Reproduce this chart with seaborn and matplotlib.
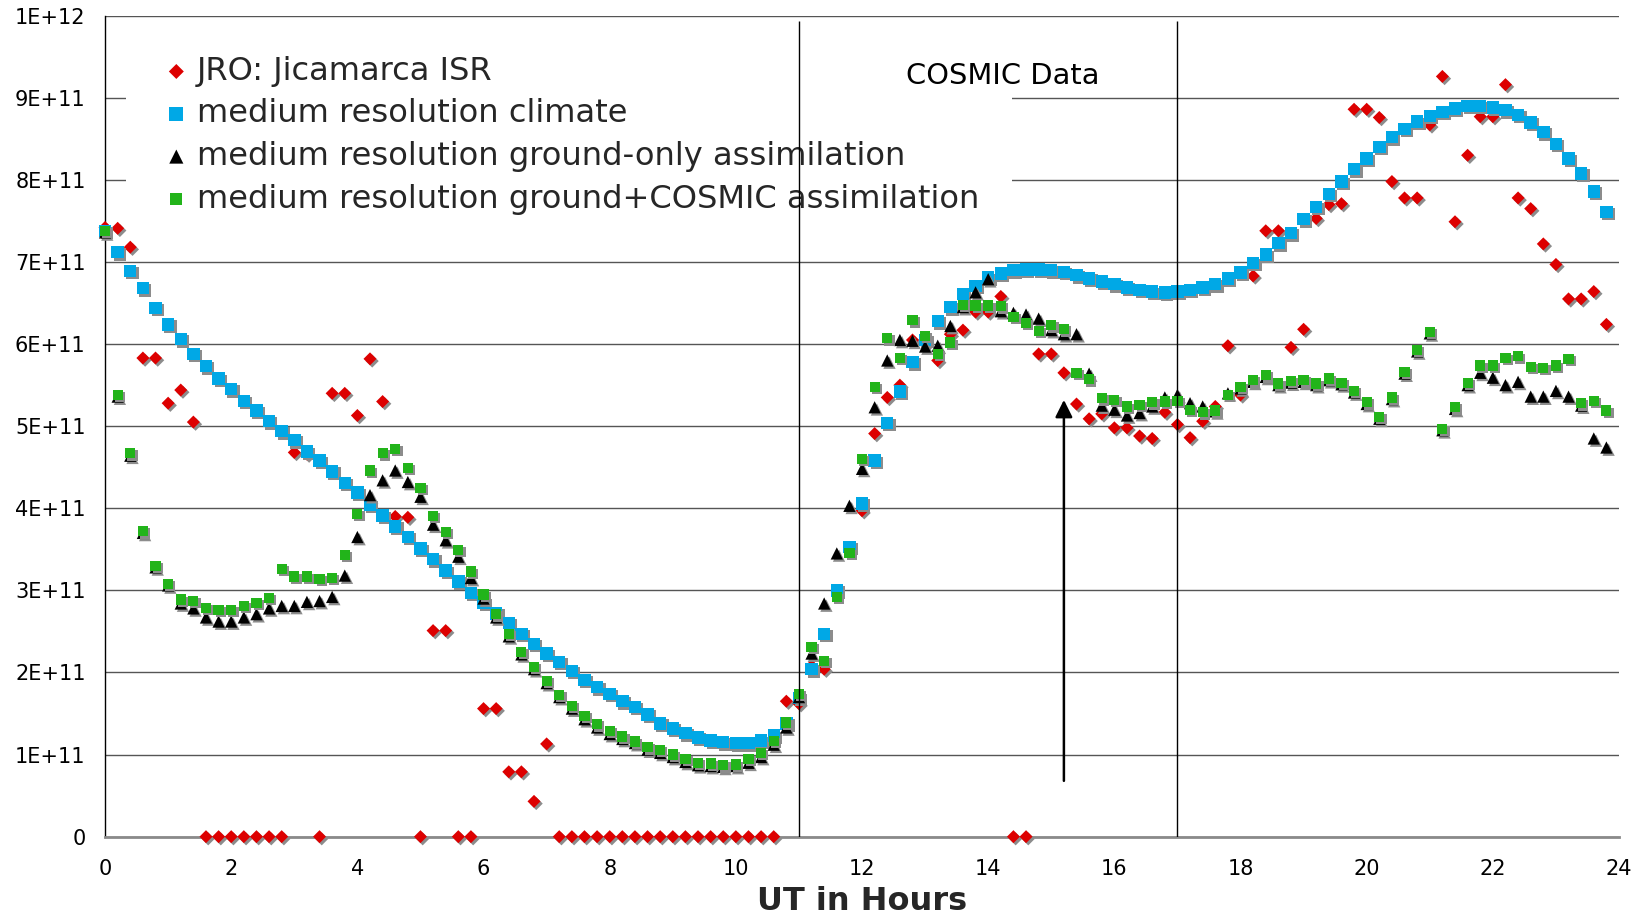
import numpy as np
import pandas as pd
import matplotlib
matplotlib.use("Agg")
import matplotlib.pyplot as plt
import seaborn as sns
from matplotlib.transforms import ScaledTranslation
from matplotlib.patches import Rectangle

# Model output every 12 minutes of UT
hours = np.round(np.arange(120) * 0.2, 1)

# Peak electron density (units of 1E+11), one row per 2 hours
jro = [
    7.42, 7.41, 7.18, 5.83, 5.83, 5.28, 5.44, 5.05, 0, 0,
    0, 0, 0, 0, 0, 4.68, 4.66, 0, 5.40, 5.40,
    5.13, 5.82, 5.30, 3.90, 3.89, 0, 2.51, 2.51, 0, 0,
    1.56, 1.56, 0.79, 0.79, 0.43, 1.13, 0, 0, 0, 0,
    0, 0, 0, 0, 0, 0, 0, 0, 0, 0,
    0, 0, 0, 0, 1.65, 1.62, 2.08, 2.04, np.nan, np.nan,
    3.97, 4.91, 5.35, 5.50, 6.05, 6.00, 5.80, 6.12, 6.17, 6.39,
    6.39, 6.58, 0, 0, 5.88, 5.88, 5.65, 5.27, 5.09, 5.15,
    4.98, 4.98, 4.88, 4.85, 5.17, 5.02, 4.86, 5.06, 5.24, 5.98,
    5.38, 6.83, 7.38, 7.38, 5.96, 6.18, 7.53, 7.70, 7.71, 8.86,
    8.86, 8.76, 7.98, 7.78, 7.78, 8.67, 9.26, 7.49, 8.30, 8.77,
    8.77, 9.16, 7.78, 7.65, 7.22, 6.97, 6.55, 6.55, 6.64, 6.24,
]
climate = [
    7.38, 7.12, 6.89, 6.68, 6.44, 6.24, 6.06, 5.88, 5.73, 5.58,
    5.45, 5.31, 5.19, 5.06, 4.94, 4.83, 4.69, 4.58, 4.45, 4.31,
    4.19, 4.04, 3.91, 3.78, 3.65, 3.51, 3.38, 3.24, 3.11, 2.97,
    2.85, 2.72, 2.60, 2.47, 2.35, 2.23, 2.13, 2.02, 1.91, 1.82,
    1.74, 1.65, 1.58, 1.49, 1.38, 1.32, 1.26, 1.21, 1.17, 1.15,
    1.14, 1.14, 1.17, 1.23, 1.38, 1.69, 2.04, 2.47, 3.00, 3.53,
    4.06, 4.58, 5.04, 5.42, 5.78, 6.05, 6.28, 6.45, 6.61, 6.71,
    6.81, 6.86, 6.90, 6.91, 6.91, 6.90, 6.88, 6.84, 6.80, 6.76,
    6.73, 6.69, 6.66, 6.64, 6.63, 6.64, 6.66, 6.69, 6.73, 6.80,
    6.87, 6.99, 7.09, 7.23, 7.35, 7.52, 7.67, 7.83, 7.98, 8.13,
    8.26, 8.40, 8.52, 8.62, 8.71, 8.78, 8.83, 8.87, 8.90, 8.90,
    8.88, 8.85, 8.79, 8.70, 8.58, 8.44, 8.26, 8.08, 7.86, 7.61,
]
ground_only = [
    7.36, 5.36, 4.64, 3.70, 3.28, 3.06, 2.84, 2.78, 2.67, 2.62,
    2.62, 2.67, 2.71, 2.78, 2.81, 2.81, 2.86, 2.87, 2.92, 3.18,
    3.65, 4.16, 4.34, 4.46, 4.32, 4.14, 3.80, 3.61, 3.41, 3.15,
    2.90, 2.67, 2.44, 2.22, 2.04, 1.87, 1.70, 1.56, 1.43, 1.33,
    1.25, 1.19, 1.14, 1.06, 1.02, 0.97, 0.91, 0.87, 0.86, 0.85,
    0.86, 0.90, 0.97, 1.12, 1.33, 1.70, 2.23, 2.84, 3.45, 4.03,
    4.48, 5.23, 5.80, 6.05, 6.04, 5.97, 5.98, 6.22, 6.45, 6.63,
    6.79, 6.40, 6.38, 6.36, 6.31, 6.17, 6.12, 6.12, 5.64, 5.25,
    5.20, 5.13, 5.16, 5.24, 5.35, 5.38, 5.28, 5.24, 5.18, 5.40,
    5.46, 5.54, 5.60, 5.50, 5.53, 5.54, 5.50, 5.56, 5.51, 5.41,
    5.27, 5.09, 5.33, 5.64, 5.91, 6.13, 4.95, 5.21, 5.50, 5.65,
    5.59, 5.50, 5.54, 5.36, 5.36, 5.43, 5.36, 5.25, 4.85, 4.74,
]
ground_cosmic = [
    7.38, 5.38, 4.67, 3.72, 3.30, 3.08, 2.89, 2.87, 2.79, 2.76,
    2.76, 2.81, 2.85, 2.91, 3.26, 3.17, 3.17, 3.14, 3.15, 3.43,
    3.93, 4.46, 4.67, 4.72, 4.49, 4.25, 3.91, 3.71, 3.49, 3.23,
    2.95, 2.71, 2.47, 2.25, 2.07, 1.90, 1.73, 1.59, 1.47, 1.37,
    1.29, 1.22, 1.16, 1.09, 1.06, 1.00, 0.95, 0.90, 0.89, 0.87,
    0.88, 0.95, 1.02, 1.17, 1.39, 1.74, 2.31, 2.14, 2.92, 3.46,
    4.60, 5.48, 6.07, 5.83, 6.29, 6.10, 5.88, 6.02, 6.48, 6.47,
    6.47, 6.46, 6.33, 6.26, 6.16, 6.23, 6.18, 5.65, 5.57, 5.34,
    5.32, 5.24, 5.26, 5.29, 5.30, 5.31, 5.20, 5.17, 5.19, 5.38,
    5.48, 5.56, 5.62, 5.52, 5.55, 5.56, 5.52, 5.58, 5.53, 5.43,
    5.29, 5.11, 5.35, 5.66, 5.93, 6.15, 4.97, 5.23, 5.53, 5.74,
    5.74, 5.83, 5.85, 5.72, 5.71, 5.74, 5.82, 5.28, 5.31, 5.19,
]

series_labels = [
    "JRO: Jicamarca ISR",
    "medium resolution climate",
    "medium resolution ground-only assimilation",
    "medium resolution ground+COSMIC assimilation",
]
ytick_labels = ["0", "1E+11", "2E+11", "3E+11", "4E+11", "5E+11",
                "6E+11", "7E+11", "8E+11", "9E+11", "1E+12"]
xticks = list(range(0, 25, 2))
cosmic_window = [11, 17]
arrow_hour = 15.2
arrow_range = [0.68, 5.32]
scale = 1e11

df = pd.DataFrame({
    "hour": hours,
    series_labels[0]: np.array(jro) * scale,
    series_labels[1]: np.array(climate) * scale,
    series_labels[2]: np.array(ground_only) * scale,
    series_labels[3]: np.array(ground_cosmic) * scale,
})

sns.set_theme(style="white")
plt.rcParams["font.family"] = ["DejaVu Sans"]

fig = plt.figure(figsize=(16.44, 9.17), dpi=100)
ax = fig.add_axes([0.0639, 0.0876, 0.9209, 0.8953])

styles = [
    dict(marker="D", s=44, color="#DD0000"),
    dict(marker="s", s=80, color="#00A8E6"),
    dict(marker="^", s=78, color="#000000"),
    dict(marker="s", s=54, color="#22B41A"),
]

shift = ScaledTranslation(1.6 / 72, -1.6 / 72, fig.dpi_scale_trans)
z = 3
for label, st in zip(series_labels, styles):
    # drop shadow
    sns.scatterplot(data=df, x="hour", y=label, marker=st["marker"], s=st["s"],
                    color="#8c8c8c", edgecolor="none", linewidth=0, ax=ax,
                    legend=False, zorder=z, clip_on=False)
    ax.collections[-1].set_offset_transform(ax.transData + shift)
    sns.scatterplot(data=df, x="hour", y=label, marker=st["marker"], s=st["s"],
                    color=st["color"], edgecolor="none", linewidth=0, ax=ax,
                    label=label, zorder=z + 0.5, clip_on=False)
    z += 1

ax.set_xlim(0, 24)
ax.set_ylim(0, 1e12)
ax.set_xticks(xticks)
ax.set_xticklabels([str(v) for v in xticks])
ax.set_yticks([i * scale for i in range(11)])
ax.set_yticklabels(ytick_labels)
ax.tick_params(axis="both", labelsize=15, colors="black", direction="out")
ax.tick_params(axis="y", length=6, width=1, pad=8)
ax.tick_params(axis="x", length=6, width=1, pad=10, color="#808080")

ax.yaxis.grid(True, color="#555555", linewidth=1)
ax.xaxis.grid(False)
ax.set_axisbelow(True)
for side in ["top", "right"]:
    ax.spines[side].set_visible(False)
ax.spines["left"].set_color("black")
ax.spines["left"].set_linewidth(1)
ax.spines["bottom"].set_color("#8a8a8a")
ax.spines["bottom"].set_linewidth(2)

ax.set_xlabel("UT in Hours", fontsize=23, fontweight="bold", labelpad=5)
ax.set_ylabel("")

# white panel behind the legend
ax.add_patch(Rectangle((0.0139, 0.757), 0.585, 0.215, transform=ax.transAxes,
                       facecolor="white", edgecolor="none", zorder=1))

ax.vlines(cosmic_window, 0, 9.94 * scale, color="black", linewidth=1, zorder=8)
ax.text(14.23, 9.27 * scale, "COSMIC Data", ha="center", va="center",
        fontsize=20.8, color="black", zorder=9)

ax.annotate("", xy=(arrow_hour, arrow_range[1] * scale),
            xytext=(arrow_hour, arrow_range[0] * scale),
            arrowprops=dict(arrowstyle="-|>", color="black", lw=1.8,
                            mutation_scale=26, shrinkA=0, shrinkB=0),
            zorder=9)

leg = ax.legend(loc="upper left", bbox_to_anchor=(0.0386, 0.951), frameon=False,
                fontsize=23.1, markerscale=1.15, handlelength=0.8,
                handletextpad=0.25, labelspacing=0.36, borderaxespad=0,
                borderpad=0)
leg.set_zorder(7)

fig.savefig("out.png", dpi=100)
